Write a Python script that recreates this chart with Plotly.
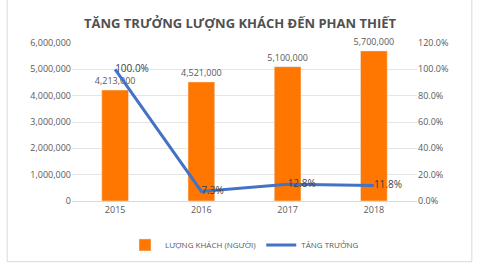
import plotly.graph_objects as go

years = ["2015", "2016", "2017", "2018"]
visitors = [4213000, 4521000, 5100000, 5700000]
growth = [1.0, 0.073, 0.128, 0.118]
visitor_labels = ["4,213,000", "4,521,000", "5,100,000", "5,700,000"]
growth_labels = ["100.0%", "7.3%", "12.8%", "11.8%"]

FONT = "Open Sans"
GREY = "#595959"

fig = go.Figure()
fig.add_trace(go.Bar(
    x=years, y=visitors, name="LƯỢNG KHÁCH (NGƯỜI)",
    marker_color="#FF7700", text=visitor_labels, textposition="outside",
    constraintext="none",
    textfont=dict(size=9, color=GREY, family=FONT), cliponaxis=False,
))
fig.add_trace(go.Scatter(
    x=years, y=growth, name="TĂNG TRƯỞNG", yaxis="y2", mode="lines+text",
    line=dict(color="#4472C4", width=3), text=growth_labels,
    textposition="middle right", textfont=dict(size=10, color="#404040", family=FONT),
    cliponaxis=False,
))

fig.update_layout(
    width=480, height=270,
    margin=dict(l=72, r=63, t=43, b=68),
    paper_bgcolor="white", plot_bgcolor="white",
    font=dict(family=FONT, size=9, color=GREY),
    title=dict(text="<b>TĂNG TRƯỞNG LƯỢNG KHÁCH ĐẾN PHAN THIẾT</b>",
               x=0.5, xanchor="center", y=0.915, yanchor="middle",
               font=dict(size=13, color="#505050", family=FONT)),
    bargap=0.69,
    showlegend=True,
    legend=dict(orientation="h", x=0.5, xanchor="center", y=-0.27, yanchor="middle",
                itemwidth=30, font=dict(size=8, color=GREY, family=FONT)),
    xaxis=dict(showline=True, linecolor="#D9D9D9", ticks="", tickfont=dict(size=9, color=GREY)),
    yaxis=dict(range=[0, 6000000], dtick=1000000, tickformat=",", gridcolor="#E5E5E5",
               zeroline=False, ticks="", tickfont=dict(size=9, color=GREY)),
    yaxis2=dict(range=[0, 1.2], dtick=0.2, tickformat=".1%", overlaying="y", side="right",
                showgrid=False, zeroline=False, ticks="", tickfont=dict(size=9, color=GREY)),
    shapes=[dict(type="rect", xref="paper", yref="paper", x0=-0.188, x1=1.159,
                 y0=-0.384, y1=1.28, line=dict(color="#D9D9D9", width=1), layer="below")],
)

fig.write_html("out.html")
